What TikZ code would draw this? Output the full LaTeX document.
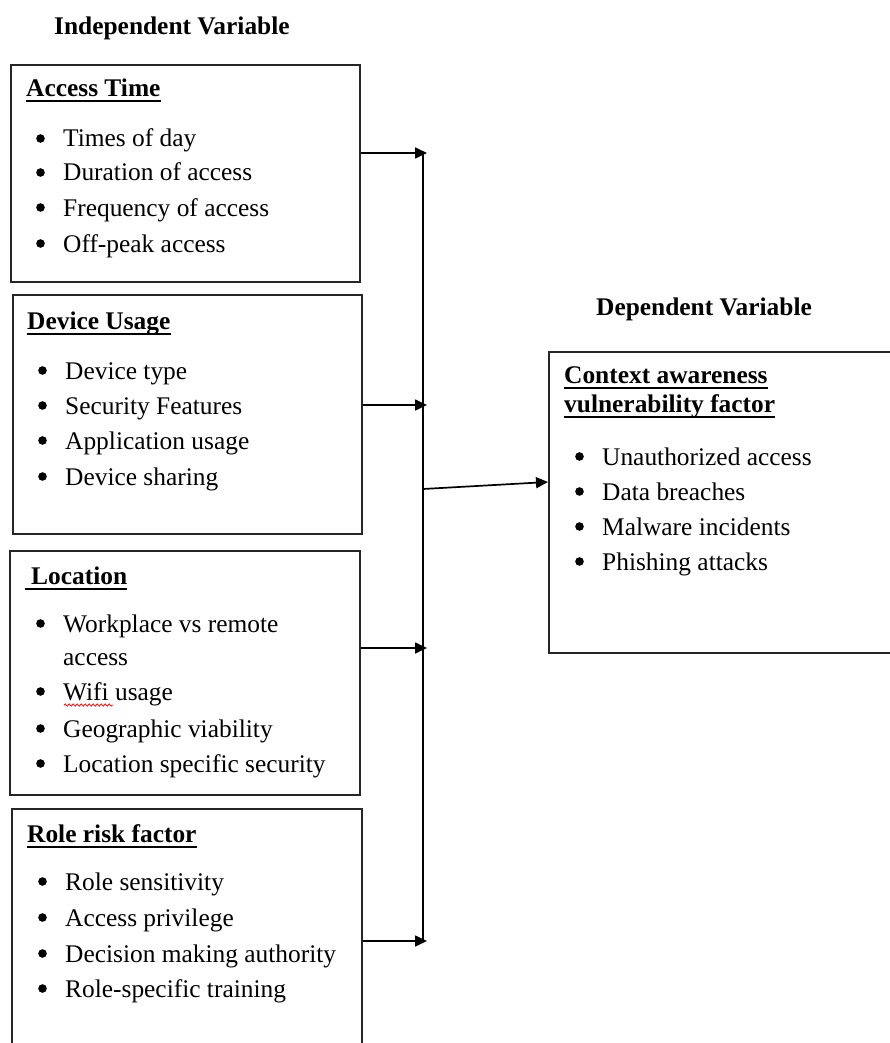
\documentclass[tikz,border=0pt]{standalone}
\usepackage{fontspec}
\setmainfont{Liberation Serif}
\usetikzlibrary{arrows.meta,decorations.pathmorphing}
\newcommand\myitem[4]{\fill ({#2+4.5},{#3-8.5}) circle (4.3pt); \node[txt] (#1) at ({#2+27},#3) {#4};}
\newcommand\myul[1]{\draw[line width=2pt] ([yshift=-4.5pt]#1.base west) -- ([yshift=-4.5pt]#1.base east);}
\begin{document}
\begin{tikzpicture}[x=1pt,y=-1pt,
  box/.style={draw=black!85, line width=1.8pt, anchor=north west, inner sep=0pt},
  txt/.style={inner sep=0pt, anchor=base west, font=\fontsize{25.4}{30}\selectfont},
  hd/.style={txt, font=\fontsize{25.4}{30}\selectfont\bfseries},
  conn/.style={line width=1.7pt, -{Triangle[length=12pt,width=11pt]}},
  plain/.style={line width=1.8pt}]
\useasboundingbox (0,0) rectangle (890,1043);
\clip (0,0) rectangle (890,1043);
\fill[white] (0,0) rectangle (890,1043);

% titles
\node[hd] (tin) at (54,35) {Independent Variable};
\node[hd] (tdep) at (596,315) {Dependent Variable};

% boxes
\node[box, minimum width=349pt, minimum height=217pt] (b1) at (10,64) {};
\node[box, minimum width=349pt, minimum height=239pt] (b2) at (12,294) {};
\node[box, minimum width=350pt, minimum height=244pt] (b3) at (9,550) {};
\node[box, minimum width=350pt, minimum height=260pt] (b4) at (11,808) {};
\node[box, minimum width=360pt, minimum height=301pt] (bR) at (548,351) {};

% box 1
\node[hd] (h1) at (26,97) {Access Time}; \myul{h1}
\myitem{i11}{36}{147}{Times of day}
\myitem{i12}{36}{181}{Duration of access}
\myitem{i13}{36}{216}{Frequency of access}
\myitem{i14}{36}{252}{Off-peak access}

% box 2
\node[hd] (h2) at (27,329) {Device Usage}; \myul{h2}
\myitem{i21}{38}{379}{Device type}
\myitem{i22}{38}{414}{Security Features}
\myitem{i23}{38}{449}{Application usage}
\myitem{i24}{38}{485}{Device sharing}

% box 3
\node[hd] (h3) at (25,584) {\hspace{6pt}Location}; \myul{h3}
\myitem{i31}{36}{632}{Workplace vs remote}
\node[txt] (i31b) at (63,665) {access};
\myitem{i32}{36}{700}{Wifi usage}
\myitem{i33}{36}{737}{Geographic viability}
\myitem{i34}{36}{772}{Location specific security}
\draw[red, line width=0.7pt, decorate, decoration={snake, amplitude=1.2pt, segment length=4pt}] (64,705) -- (113,705);

% box 4
\node[hd] (h4) at (27,842) {Role risk factor}; \myul{h4}
\myitem{i41}{38}{890}{Role sensitivity}
\myitem{i42}{38}{926}{Access privilege}
\myitem{i43}{38}{962}{Decision making authority}
\myitem{i44}{38}{997}{Role-specific training}

% right box
\node[hd] (hR1) at (564,383) {Context awareness}; \myul{hR1}
\node[hd] (hR2) at (564,412) {vulnerability factor}; \myul{hR2}
\myitem{iR1}{575}{465}{Unauthorized access}
\myitem{iR2}{575}{500}{Data breaches}
\myitem{iR3}{575}{535}{Malware incidents}
\myitem{iR4}{575}{570}{Phishing attacks}

% connectors
\coordinate (a1) at (427,153);
\coordinate (a2) at (427,405);
\coordinate (a3) at (427,648);
\coordinate (a4) at (427,941);
\coordinate (vt) at (423,153);
\coordinate (vb) at (423,941);
\coordinate (vm) at (423,489);
\coordinate (rin) at (548,482);
\draw[plain] (vt) -- (vb);
\draw[conn] (b1.east |- a1) -- (a1);
\draw[conn] (b2.east |- a2) -- (a2);
\draw[conn] (b3.east |- a3) -- (a3);
\draw[conn] (b4.east |- a4) -- (a4);
\draw[conn] (vm) -- (rin);
\end{tikzpicture}
\end{document}
